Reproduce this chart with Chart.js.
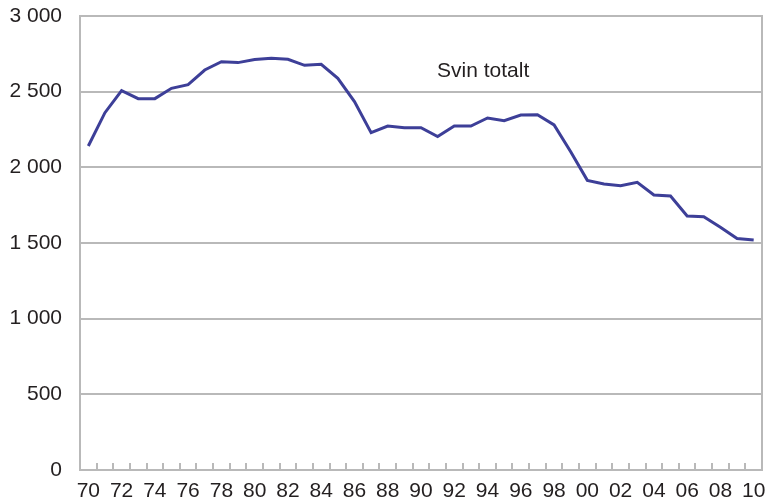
<!DOCTYPE html>
<html>
<head>
<meta charset="utf-8">
<script src="https://cdn.jsdelivr.net/npm/chart.js@4/dist/chart.umd.min.js"></script>
<style>
  html, body { margin: 0; padding: 0; background: #fff; }
  #wrap { width: 766px; height: 500px; }
</style>
</head>
<body>
<div id="wrap"><canvas id="chart"></canvas></div>
<script>
const years = [];
for (let y = 1970; y <= 2010; y++) years.push(y);

// Svin totalt, 1 000 dyr
const svinTotalt = [
  2141, 2361, 2507, 2454, 2454, 2522, 2546, 2643, 2698, 2692,
  2712, 2720, 2714, 2674, 2681, 2588, 2434, 2229, 2273, 2262,
  2262, 2203, 2273, 2273, 2326, 2308, 2346, 2348, 2280, 2103,
  1914, 1890, 1879, 1901, 1817, 1811, 1678, 1674, 1604, 1529,
  1520,
];

const seriesLabel = 'Svin totalt';
const yTicks = [0, 500, 1000, 1500, 2000, 2500, 3000];

const gridColor = '#b9b9b9';
const textColor = '#231f20';
const fontFamily = '"Liberation Sans", Arial, sans-serif';

// inner tick marks on x axis + right frame line + series label
const framePlugin = {
  id: 'frame',
  afterDraw(chart) {
    const { ctx, chartArea, scales } = chart;
    const x = scales.x;
    ctx.save();
    ctx.strokeStyle = gridColor;
    ctx.lineWidth = 2;
    ctx.beginPath();
    for (let i = 1; i < years.length; i++) {
      const px = Math.round((x.getPixelForValue(i - 1) + x.getPixelForValue(i)) / 2);
      ctx.moveTo(px, chartArea.bottom);
      ctx.lineTo(px, chartArea.bottom - 7);
    }
    ctx.stroke();
    ctx.beginPath();
    ctx.moveTo(chartArea.right, chartArea.top - 1);
    ctx.lineTo(chartArea.right, chartArea.bottom);
    ctx.stroke();
    ctx.fillStyle = textColor;
    ctx.font = '21px ' + fontFamily;
    ctx.textBaseline = 'middle';
    ctx.textAlign = 'left';
    ctx.fillText(seriesLabel, x.getPixelForValue(20) + 16, scales.y.getPixelForValue(2632));
    ctx.restore();
  },
};

new Chart(document.getElementById('chart'), {
  type: 'line',
  data: {
    labels: years,
    datasets: [{
      label: seriesLabel,
      data: svinTotalt,
      borderColor: '#3d3f98',
      borderWidth: 3,
      pointRadius: 0,
      tension: 0,
      fill: false,
    }],
  },
  options: {
    responsive: true,
    maintainAspectRatio: false,
    animation: false,
    layout: { padding: { top: 16, right: 4, left: 0, bottom: 0 } },
    plugins: { legend: { display: false }, tooltip: { enabled: false } },
    scales: {
      x: {
        type: 'category',
        offset: true,
        grid: { display: false, offset: true },
        border: { display: true, color: gridColor, width: 2 },
        ticks: {
          autoSkip: false,
          maxRotation: 0,
          padding: 1,
          color: textColor,
          font: { family: fontFamily, size: 21 },
          callback(value, index) {
            const yr = years[index];
            return yr % 2 === 0 ? String(yr).slice(2) : '';
          },
        },
        afterFit(scale) {
          scale.height = 30;
          scale.paddingLeft = 0;
          scale.paddingRight = 0;
        },
      },
      y: {
        min: 0,
        max: 3000,
        afterBuildTicks(scale) { scale.ticks = yTicks.map(v => ({ value: v })); },
        grid: { color: gridColor, lineWidth: 2, drawTicks: false },
        border: { display: true, color: gridColor, width: 2 },
        ticks: {
          padding: 18,
          color: textColor,
          font: { family: fontFamily, size: 21 },
          callback(value) {
            return String(value).replace(/\B(?=(\d{3})+(?!\d))/g, ' ');
          },
        },
        afterFit(scale) {
          scale.width = 80;
          scale.paddingTop = 0;
          scale.paddingBottom = 0;
        },
      },
    },
  },
  plugins: [framePlugin],
});
</script>
</body>
</html>
